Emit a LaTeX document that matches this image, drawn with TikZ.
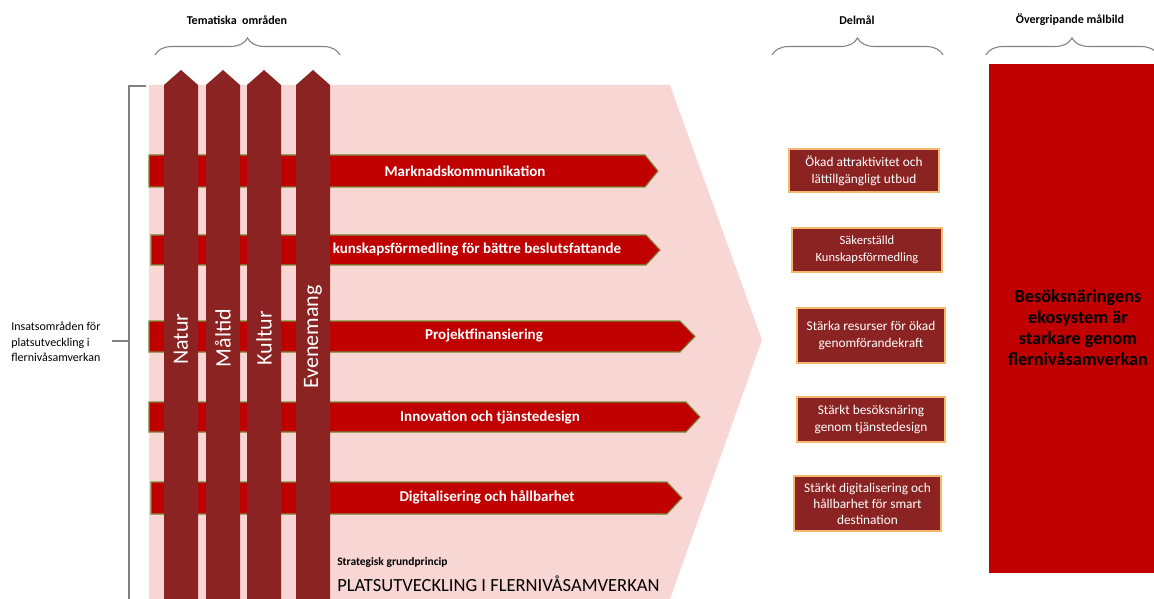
\documentclass[tikz,border=0pt]{standalone}
\usepackage{fontspec}
\setmainfont{Carlito}
\usetikzlibrary{decorations.pathreplacing}
\definecolor{pinkbg}{RGB}{248,214,212}
\definecolor{darkred}{RGB}{140,35,35}
\definecolor{brightred}{RGB}{192,0,0}
\definecolor{olivegreen}{RGB}{120,140,60}
\definecolor{goldline}{RGB}{245,185,110}
\definecolor{bracegray}{RGB}{128,128,128}
\begin{document}
\begin{tikzpicture}[x=0.75pt,y=-0.75pt,
  hbar/.style={fill=brightred,draw=olivegreen,line width=0.8pt},
  vbar/.style={fill=darkred},
  htext/.style={text=white,font=\bfseries\fontsize{11.25}{13}\selectfont,inner sep=0pt},
  vtext/.style={text=white,rotate=90,font=\fontsize{16.5}{19}\selectfont,inner sep=0pt},
  goalbox/.style={fill=darkred,draw=goldline,line width=1pt,text=white,align=center,inner sep=0pt,
    font=\fontsize{10}{12.5}\selectfont},
  headtext/.style={font=\bfseries\fontsize{9}{11}\selectfont,inner sep=0pt},
  topbrace/.style={draw=bracegray,line width=0.8pt,decorate,decoration={brace,amplitude=12.75pt}},
  bracketline/.style={draw=bracegray,line width=0.8pt},
]
\useasboundingbox (0,0) rectangle (1154,599);

% pink chevron background
\fill[pinkbg] (149,85) -- (670,85) -- (762,340) -- (669,602) -- (149,602) -- cycle;

% horizontal arrows
\draw[hbar] (149,155) -- (645,155) -- (658,171) -- (645,187) -- (149,187) -- cycle;
\draw[hbar] (151,235) -- (646,235) -- (660,250) -- (646,265) -- (151,265) -- cycle;
\draw[hbar] (149,321) -- (680,321) -- (695,336.5) -- (680,352) -- (149,352) -- cycle;
\draw[hbar] (149,402) -- (686,402) -- (700,417) -- (686,432) -- (149,432) -- cycle;
\draw[hbar] (151,482) -- (667,482) -- (682,498) -- (667,514) -- (151,514) -- cycle;

\node[htext] (h1) at (465,171) {Marknadskommunikation};
\node[htext] (h2) at (477,250) {kunskapsförmedling för bättre beslutsfattande};
\node[htext] (h3) at (484,336) {Projektfinansiering};
\node[htext] (h4) at (490,417) {Innovation och tjänstedesign};
\node[htext] (h5) at (487,497) {Digitalisering och hållbarhet};

% vertical arrows
\fill[vbar] (164,602) -- (164,85) -- (181,70) -- (198,85) -- (198,602) -- cycle;
\fill[vbar] (206,602) -- (206,85) -- (223,70) -- (240,85) -- (240,602) -- cycle;
\fill[vbar] (247,602) -- (247,85) -- (264,70) -- (281,85) -- (281,602) -- cycle;
\fill[vbar] (296,602) -- (296,85) -- (313,70) -- (330,85) -- (330,602) -- cycle;

\node[vtext] (v1) at (181,339) {Natur};
\node[vtext] (v2) at (223,338) {Måltid};
\node[vtext] (v3) at (264,338) {Kultur};
\node[vtext] (v4) at (313,337) {Evenemang};

% strategic principle
\node[anchor=west,inner sep=0pt,font=\bfseries\fontsize{8.6}{10}\selectfont] (sg) at (337,562) {Strategisk grundprincip};
\node[anchor=west,inner sep=0pt,font=\fontsize{13.9}{16}\selectfont] (pf) at (337,584) {PLATSUTVECKLING I FLERNIVÅSAMVERKAN};

% goal boxes
\node[goalbox,minimum width=150*0.75pt,minimum height=43*0.75pt] (g1) at (864,170.5) {Ökad attraktivitet och\\lättillgängligt utbud};
\node[goalbox,minimum width=150*0.75pt,minimum height=44*0.75pt,font=\fontsize{9.4}{12.5}\selectfont] (g2) at (867,250) {Säkerställd\\Kunskapsförmedling};
\node[goalbox,minimum width=148*0.75pt,minimum height=55*0.75pt] (g3) at (871,335.5) {Stärka resurser för ökad\\genomförandekraft};
\node[goalbox,minimum width=148*0.75pt,minimum height=45*0.75pt] (g4) at (871,419.5) {Stärkt besöksnäring\\genom tjänstedesign};
\node[goalbox,minimum width=147*0.75pt,minimum height=55*0.75pt,font=\fontsize{10}{12}\selectfont] (g5) at (867.5,503.5) {Stärkt digitalisering och\\hållbarhet för smart\\destination};

% overall goal box
\fill[brightred] (989,64) rectangle (1160,573);
\node[align=center,inner sep=0pt,font=\bfseries\fontsize{13.7}{15.75}\selectfont] (og) at (1078,328) {Besöksnäringens\\ekosystem är\\starkare genom\\flernivåsamverkan};

% headings and braces
\node[headtext] (t1) at (237,20) {Tematiska \ områden};
\node[headtext] (t2) at (857,20) {Delmål};
\node[headtext] (t3) at (1070,20) {Övergripande målbild};

\coordinate (b1a) at (155,55); \coordinate (b1b) at (340,55);
\coordinate (b2a) at (772,55); \coordinate (b2b) at (943,55);
\coordinate (b3a) at (986,55); \coordinate (b3b) at (1158,55);
\draw[topbrace] (b1a) -- (b1b);
\draw[topbrace] (b2a) -- (b2b);
\draw[topbrace] (b3a) -- (b3b);

% left bracket and label
\coordinate (brtop) at (146,86);
\coordinate (brcorner) at (129,86);
\coordinate (brbottom) at (129,602);
\coordinate (brmid) at (129,341);
\coordinate (tickend) at (112,341);
\draw[bracketline] (brtop) -- (brcorner) -- (brbottom);
\draw[bracketline] (tickend) -- (brmid);
\node[anchor=west,align=left,inner sep=0pt,font=\fontsize{9}{11.6}\selectfont] (lbl) at (11,342) {Insatsområden för\\platsutveckling i\\flernivåsamverkan};
\end{tikzpicture}
\end{document}
